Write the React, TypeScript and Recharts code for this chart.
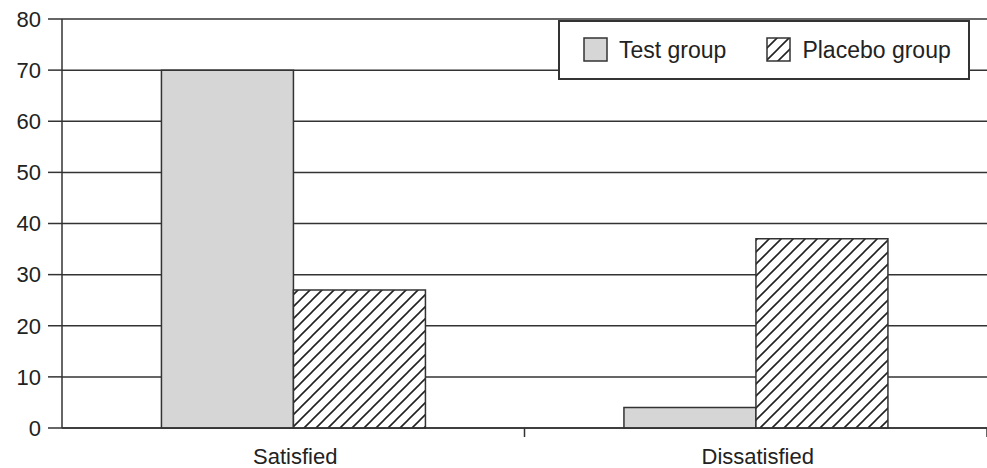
import { BarChart, Bar, XAxis, YAxis, CartesianGrid } from "recharts";

const categories = ["Satisfied", "Dissatisfied"];
const testGroup = [70, 4];
const placeboGroup = [27, 37];
const yTicks = [0, 10, 20, 30, 40, 50, 60, 70, 80];

const data = categories.map((c, i) => ({
  name: c,
  test: testGroup[i],
  placebo: placeboGroup[i],
}));

const FONT = "'Liberation Sans', Arial, sans-serif";
const WIDTH = 987;
const HEIGHT = 468;
const LEFT = 62;
const RIGHT = 0;
const halfBand = (WIDTH - LEFT - RIGHT) / categories.length / 2;

function CategoryTick(props: any) {
  const { x, y, payload } = props;
  return (
    <g>
      <line x1={x + halfBand} y1={y - 8} x2={x + halfBand} y2={y + 1} stroke="#333" strokeWidth={1.5} />
      <text x={x + 2} y={y + 28} textAnchor="middle" fontSize={22} fill="#222" fontFamily={FONT}>
        {payload.value}
      </text>
    </g>
  );
}

function LegendBox() {
  return (
    <div
      style={{
        position: "absolute",
        left: 558,
        top: 20,
        width: 412,
        height: 60,
        border: "2px solid #333",
        background: "#fff",
        display: "flex",
        alignItems: "center",
        fontFamily: FONT,
        fontSize: 23,
        color: "#222",
        boxSizing: "border-box",
      }}
    >
      <svg width={26} height={26} style={{ marginLeft: 23, marginRight: 10 }}>
        <rect x={1} y={1} width={23} height={23} fill="#d6d6d6" stroke="#333" strokeWidth={1.5} />
      </svg>
      <span>Test group</span>
      <svg width={26} height={26} style={{ marginLeft: 40, marginRight: 10 }}>
        <rect x={1} y={1} width={23} height={23} fill="url(#hatch)" stroke="#333" strokeWidth={1.5} />
      </svg>
      <span>Placebo group</span>
    </div>
  );
}

export default function App() {
  return (
    <div style={{ position: "absolute", left: 0, top: 0, width: WIDTH, height: HEIGHT, background: "#fff" }}>
      <BarChart
        width={WIDTH}
        height={HEIGHT}
        data={data}
        margin={{ top: 19, right: RIGHT, left: 0, bottom: 0 }}
        barGap={0}
        barCategoryGap="21.5%"
      >
        <defs>
          <pattern id="hatch" patternUnits="userSpaceOnUse" width={12} height={12}>
            <rect width={12} height={12} fill="#fff" />
            <path d="M-3,3 l6,-6 M0,12 l12,-12 M9,15 l6,-6" stroke="#222" strokeWidth={1.6} />
          </pattern>
        </defs>
        <CartesianGrid vertical={false} stroke="#333" strokeWidth={1.5} />
        <XAxis
          dataKey="name"
          height={40}
          tick={<CategoryTick />}
          tickLine={false}
          axisLine={{ stroke: "#333", strokeWidth: 1.5 }}
        />
        <YAxis
          width={LEFT}
          domain={[0, 80]}
          ticks={yTicks}
          interval={0}
          tickSize={14}
          tickMargin={7}
          tickLine={{ stroke: "#333", strokeWidth: 1.5 }}
          axisLine={{ stroke: "#333", strokeWidth: 1.5 }}
          tick={{ fontSize: 22, fill: "#222", fontFamily: FONT }}
        />
        <Bar dataKey="test" name="Test group" fill="#d6d6d6" stroke="#333" strokeWidth={1.5} isAnimationActive={false} />
        <Bar dataKey="placebo" name="Placebo group" fill="url(#hatch)" stroke="#333" strokeWidth={1.5} isAnimationActive={false} />
      </BarChart>
      <LegendBox />
    </div>
  );
}
